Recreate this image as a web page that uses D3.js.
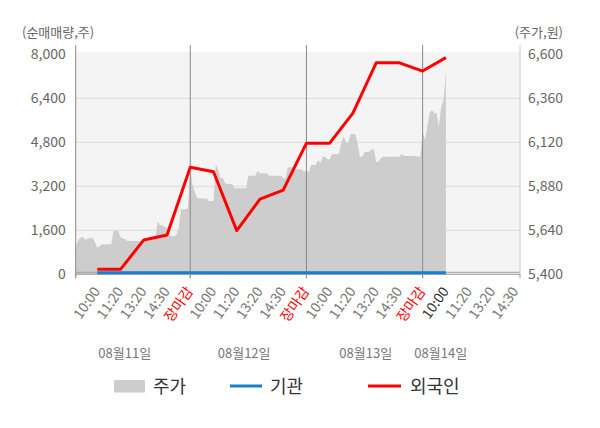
<!DOCTYPE html>
<html>
<head>
<meta charset="utf-8">
<script src="https://cdn.jsdelivr.net/npm/d3@7"></script>
<style>
  body { margin: 0; background: #fff; }
  svg text { font-family: "Noto Sans CJK KR", "Noto Sans", sans-serif; }
</style>
</head>
<body>
<svg id="chart" width="600" height="428"></svg>
<script>
// x-axis labels: 5 per trading day, last day still open
const timeLabels = [
  "10:00", "11:20", "13:20", "14:30", "장마감",
  "10:00", "11:20", "13:20", "14:30", "장마감",
  "10:00", "11:20", "13:20", "14:30", "장마감",
  "10:00", "11:20", "13:20", "14:30"
];
const dateLabels = ["08월11일", "08월12일", "08월13일", "08월14일"];
const nowIndex = 15; // label of the current time (day 4 10:00)

// stock price (원), 10 samples per label step
const price = [
  5462, 5560, 5591, 5602, 5602, 5587, 5596, 5596, 5600, 5575,
  5545, 5555, 5564, 5564, 5564, 5564, 5564, 5638, 5638, 5638,
  5602, 5595, 5591, 5582, 5582, 5582, 5582, 5582, 5582, 5582,
  5582, 5582, 5582, 5602, 5602, 5602, 5687, 5669, 5669, 5656,
  5656, 5609, 5609, 5609, 5615, 5647, 5755, 5755, 5755, 5760,
  5980, 5887, 5849, 5815, 5815, 5815, 5809, 5815, 5800, 5800,
  5800, 6002, 5969, 5925, 5925, 5896, 5893, 5893, 5893, 5869,
  5869, 5869, 5869, 5869, 5869, 5938, 5938, 5938, 5938, 5963,
  5951, 5951, 5951, 5951, 5938, 5938, 5938, 5938, 5938, 5938,
  5924, 5924, 5984, 5984, 5984, 5973, 5973, 5973, 5973, 5960,
  5969, 5954, 5996, 5996, 5996, 6023, 6009, 6041, 6041, 6027,
  6027, 6056, 6056, 6056, 6056, 6118, 6151, 6123, 6115, 6165,
  6165, 6165, 6115, 6041, 6041, 6069, 6069, 6069, 6082, 6082,
  6014, 6014, 6033, 6041, 6041, 6041, 6041, 6041, 6041, 6041,
  6041, 6056, 6045, 6045, 6045, 6045, 6045, 6045, 6041, 6041,
  6178, 6133, 6205, 6280, 6296, 6278, 6278, 6209, 6314, 6350, 6505
];

// cumulative net buying (주) at label steps 1..16
const foreign = [180, 180, 1250, 1430, 3890, 3730, 1590, 2730, 3060, 4770, 4770, 5860, 7690, 7690, 7390, 7880];
const institution = [60, 60, 60, 60, 60, 60, 60, 60, 60, 60, 60, 60, 60, 60, 60, 60];

const volTicks = [0, 1600, 3200, 4800, 6400, 8000];
const priceTicks = [5400, 5640, 5880, 6120, 6360, 6600];

const svg = d3.select("#chart");
const pLeft = 75.7, pRight = 520, pTop = 54.3, pBottom = 274.3;

const x = d3.scaleLinear().domain([0.07, 19.19]).range([pLeft, pRight]);
const yL = d3.scaleLinear().domain([0, 8000]).range([pBottom, pTop]);
const yR = d3.scaleLinear().domain([5400, 6600]).range([pBottom, pTop]);

// plot background
svg.append("rect")
  .attr("x", pLeft).attr("y", 52)
  .attr("width", pRight - pLeft).attr("height", pBottom - 52)
  .attr("fill", "#f4f4f4");

svg.append("clipPath").attr("id", "plotClip")
  .append("rect")
  .attr("x", pLeft).attr("y", 40)
  .attr("width", pRight - pLeft).attr("height", pBottom - 40);

// horizontal gridlines
svg.append("g").selectAll("line")
  .data(volTicks.filter(d => d > 0 && d < 8000))
  .join("line")
  .attr("x1", pLeft).attr("x2", pRight)
  .attr("y1", d => yL(d)).attr("y2", d => yL(d))
  .attr("stroke", "#dadada");

// price area
const area = d3.area()
  .x((d, i) => x(i / 10))
  .y0(pBottom)
  .y1(d => yR(d));

svg.append("path")
  .datum(price)
  .attr("clip-path", "url(#plotClip)")
  .attr("d", area)
  .attr("fill", "#cdcdcd");

// zero line of the volume axis
svg.append("line")
  .attr("x1", pLeft).attr("x2", pRight)
  .attr("y1", pBottom - 2).attr("y2", pBottom - 2)
  .attr("stroke", "#a0a0a0");

// day separators
svg.append("g").selectAll("line")
  .data([5, 10, 15])
  .join("line")
  .attr("x1", d => x(d)).attr("x2", d => x(d))
  .attr("y1", 45).attr("y2", pBottom + 4)
  .attr("stroke", "#8a8a8a");

// axis frame
svg.append("line")
  .attr("x1", pLeft).attr("x2", pLeft).attr("y1", 45).attr("y2", pBottom + 4)
  .attr("stroke", "#8a8a8a");
svg.append("line")
  .attr("x1", pRight).attr("x2", pRight).attr("y1", 45).attr("y2", pBottom)
  .attr("stroke", "#cccccc");
svg.append("line")
  .attr("x1", pLeft).attr("x2", pRight).attr("y1", pBottom).attr("y2", pBottom)
  .attr("stroke", "#999999");

// net buying lines
const line = y => d3.line().x((d, i) => x(i + 1)).y(d => y(d));

svg.append("path")
  .datum(institution)
  .attr("d", line(yL))
  .attr("fill", "none")
  .attr("stroke", "#1a7fc9")
  .attr("stroke-width", 3);

svg.append("path")
  .datum(foreign)
  .attr("d", line(yL))
  .attr("fill", "none")
  .attr("stroke", "#ff0000")
  .attr("stroke-width", 3)
  .attr("stroke-linejoin", "round");

// left axis
const gL = svg.append("g")
  .attr("transform", `translate(${pLeft},0)`)
  .call(d3.axisLeft(yL).tickValues(volTicks).tickSize(0).tickPadding(10).tickFormat(d3.format(",")));
gL.select(".domain").remove();
gL.selectAll("text").attr("fill", "#666").style("font-size", "14px");

// right axis
const gR = svg.append("g")
  .attr("transform", `translate(${pRight},0)`)
  .call(d3.axisRight(yR).tickValues(priceTicks).tickSize(0).tickPadding(8).tickFormat(d3.format(",")));
gR.select(".domain").remove();
gR.selectAll("text").attr("fill", "#666").style("font-size", "14px");

// bottom axis
const gB = svg.append("g")
  .attr("transform", `translate(0,${pBottom})`)
  .call(d3.axisBottom(x).tickValues(d3.range(1, timeLabels.length + 1)).tickSize(0)
    .tickFormat(i => timeLabels[i - 1]));
gB.select(".domain").remove();
gB.selectAll("text")
  .attr("x", 0).attr("y", 0).attr("dy", null)
  .attr("text-anchor", "end")
  .attr("transform", "translate(3,17) rotate(-55)")
  .style("font-size", "14px")
  .attr("fill", (d, i) => timeLabels[i] === "장마감" ? "#ff0000" : (i === nowIndex ? "#333" : "#777"));

// bottom tick marks at day boundaries
svg.append("g").selectAll("line")
  .data([0.07, 5, 10, 15, 19.19])
  .join("line")
  .attr("x1", d => x(d)).attr("x2", d => x(d))
  .attr("y1", pBottom).attr("y2", pBottom + 4)
  .attr("stroke", "#999");

// date labels
const datePos = [2.18, 7.32, 12.55, 15.78];
svg.append("g").selectAll("text")
  .data(dateLabels)
  .join("text")
  .attr("x", (d, i) => x(datePos[i]))
  .attr("y", 358)
  .attr("text-anchor", "middle")
  .style("font-size", "13px")
  .attr("fill", "#777")
  .text(d => d);

// axis titles
svg.append("text")
  .attr("x", 22).attr("y", 37)
  .style("font-size", "13px").attr("fill", "#666")
  .text("(순매매량,주)");
svg.append("text")
  .attr("x", 563).attr("y", 37)
  .attr("text-anchor", "end")
  .style("font-size", "13px").attr("fill", "#666")
  .text("(주가,원)");

// legend
const legend = svg.append("g");
legend.append("rect")
  .attr("x", 114).attr("y", 380).attr("width", 31).attr("height", 12.5)
  .attr("fill", "#cdcdcd");
legend.append("text").attr("x", 153).attr("y", 393)
  .style("font-size", "18px").attr("fill", "#333").text("주가");
legend.append("line")
  .attr("x1", 230).attr("x2", 262).attr("y1", 386).attr("y2", 386)
  .attr("stroke", "#1a7fc9").attr("stroke-width", 3);
legend.append("text").attr("x", 270).attr("y", 393)
  .style("font-size", "18px").attr("fill", "#333").text("기관");
legend.append("line")
  .attr("x1", 368).attr("x2", 401).attr("y1", 386).attr("y2", 386)
  .attr("stroke", "#ff0000").attr("stroke-width", 3);
legend.append("text").attr("x", 410).attr("y", 393)
  .style("font-size", "18px").attr("fill", "#333").text("외국인");
</script>
</body>
</html>
